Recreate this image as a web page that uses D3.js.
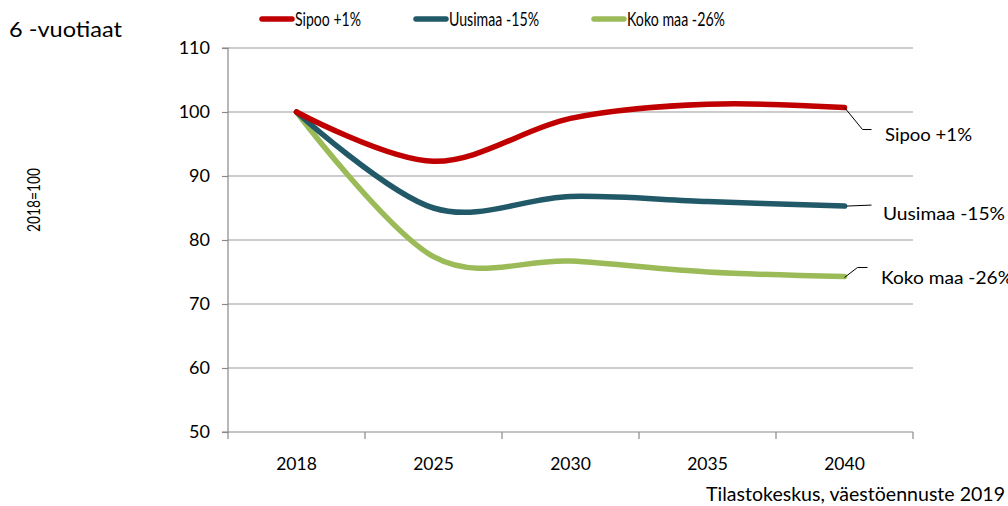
<!DOCTYPE html>
<html><head><meta charset="utf-8">
<script src="https://cdn.jsdelivr.net/npm/d3@7"></script>
<style>body{margin:0;background:#fff}svg{display:block;font-family:Lato,"Open Sans",sans-serif}</style>
</head><body><svg id="c" width="1008" height="506"></svg>
<script>
const years = ["2018","2025","2030","2035","2040"];
const sipoo = [100, 92.3, 99.0, 101.2, 100.7];
const uusimaa = [100, 85.0, 86.8, 86.0, 85.3];
const kokomaa = [100, 77.4, 76.7, 75.0, 74.3];
const seriesNames = ["Sipoo +1%", "Uusimaa -15%", "Koko maa -26%"];
const yTicks = [50, 60, 70, 80, 90, 100, 110];

const colors = ["#C00000", "#215968", "#9BBB59"];
const data = [sipoo, uusimaa, kokomaa];
const svg = d3.select("#c");
const L = 228, R = 913, T = 48, B = 432;

const x = d3.scaleBand().domain(years).range([L, R]);
const y = d3.scaleLinear().domain([50, 110]).range([B, T]);

function fit(sel, w) { sel.attr("textLength", w).attr("lengthAdjust", "spacingAndGlyphs"); }

// gridlines
svg.append("g").selectAll("line").data(yTicks.slice(1)).join("line")
  .attr("x1", L).attr("x2", R).attr("y1", d => y(d)).attr("y2", d => y(d))
  .attr("stroke", "#9a9a9a").attr("stroke-width", 1.2);

// y axis
const ya = svg.append("g").attr("transform", `translate(${L},0)`)
  .call(d3.axisLeft(y).tickValues(yTicks).tickSize(6).tickPadding(12));
ya.select(".domain").attr("stroke", "#8a8a8a").attr("stroke-width", 1.2).attr("d", `M-6,${T}H0V${B}H-6`);
ya.selectAll(".tick line").attr("stroke", "#8a8a8a").attr("stroke-width", 1.2);
ya.selectAll("text").attr("font-size", 18).attr("fill", "#000").attr("font-family", "Lato");

// x axis
const xa = svg.append("g").attr("transform", `translate(0,${B})`)
  .call(d3.axisBottom(x).tickSize(0).tickPadding(26));
xa.select(".domain").attr("stroke", "#8a8a8a").attr("stroke-width", 1.2).attr("d", `M${L},0H${R}`);
xa.selectAll("text").attr("font-size", 17.5).attr("fill", "#000").attr("font-family", "Lato");
const bounds = years.map(d => x(d)).concat([R]);
xa.selectAll(".bd").data(bounds).join("line").attr("class", "bd")
  .attr("x1", d => d).attr("x2", d => d).attr("y1", 0).attr("y2", 7)
  .attr("stroke", "#8a8a8a").attr("stroke-width", 1.2);

// lines
const line = d3.line().x((d, i) => x(years[i]) + x.bandwidth() / 2).y(d => y(d))
  .curve(d3.curveCardinal.tension(0));
[2, 1, 0].forEach(k => {
  svg.append("path").attr("d", line(data[k])).attr("fill", "none")
    .attr("stroke", colors[k]).attr("stroke-width", 5.5).attr("stroke-linecap", "round");
});

// end labels with leaders
const lastX = x(years[4]) + x.bandwidth() / 2;
const labelInfo = [
  {pts: [[0, 0], [18, 22], [27, 22]], tx: 885, dy: 27, w: 87},
  {pts: [[2, 0], [27, -1]], tx: 883, dy: 8, w: 122},
  {pts: [[0, 1], [13, -9], [23, -9]], tx: 881, dy: 1, w: 132}
];
labelInfo.forEach((li, k) => {
  const x0 = lastX, y0 = y(data[k][4]);
  svg.append("path").attr("d", d3.line()(li.pts.map(p => [x0 + p[0], y0 + p[1]])))
    .attr("fill", "none").attr("stroke", "#000").attr("stroke-width", 1);
  svg.append("text").attr("x", li.tx).attr("y", y0 + li.dy).attr("dy", "0.35em")
    .attr("font-size", 18).text(seriesNames[k]).call(fit, li.w);
});

// legend
const legX = [262, 416, 594];
const legW = [66, 90, 98];
seriesNames.forEach((n, k) => {
  svg.append("line").attr("x1", legX[k]).attr("x2", legX[k] + 30).attr("y1", 19).attr("y2", 19)
    .attr("stroke", colors[k]).attr("stroke-width", 5.5).attr("stroke-linecap", "round");
  svg.append("text").attr("x", legX[k] + 33).attr("y", 19).attr("dy", "0.36em")
    .attr("font-size", 19).text(n).call(fit, legW[k]);
});

// titles
svg.append("text").attr("x", 9).attr("y", 37).attr("font-size", 20.5).text("6 -vuotiaat").call(fit, 113);
svg.append("text").attr("transform", "translate(40,200) rotate(-90)").attr("text-anchor", "middle")
  .attr("font-size", 16.5).text("2018=100").call(fit, 64);
svg.append("text").attr("x", 706).attr("y", 501)
  .attr("font-size", 18.5).text("Tilastokeskus, väestöennuste 2019").call(fit, 299);
</script></body></html>
